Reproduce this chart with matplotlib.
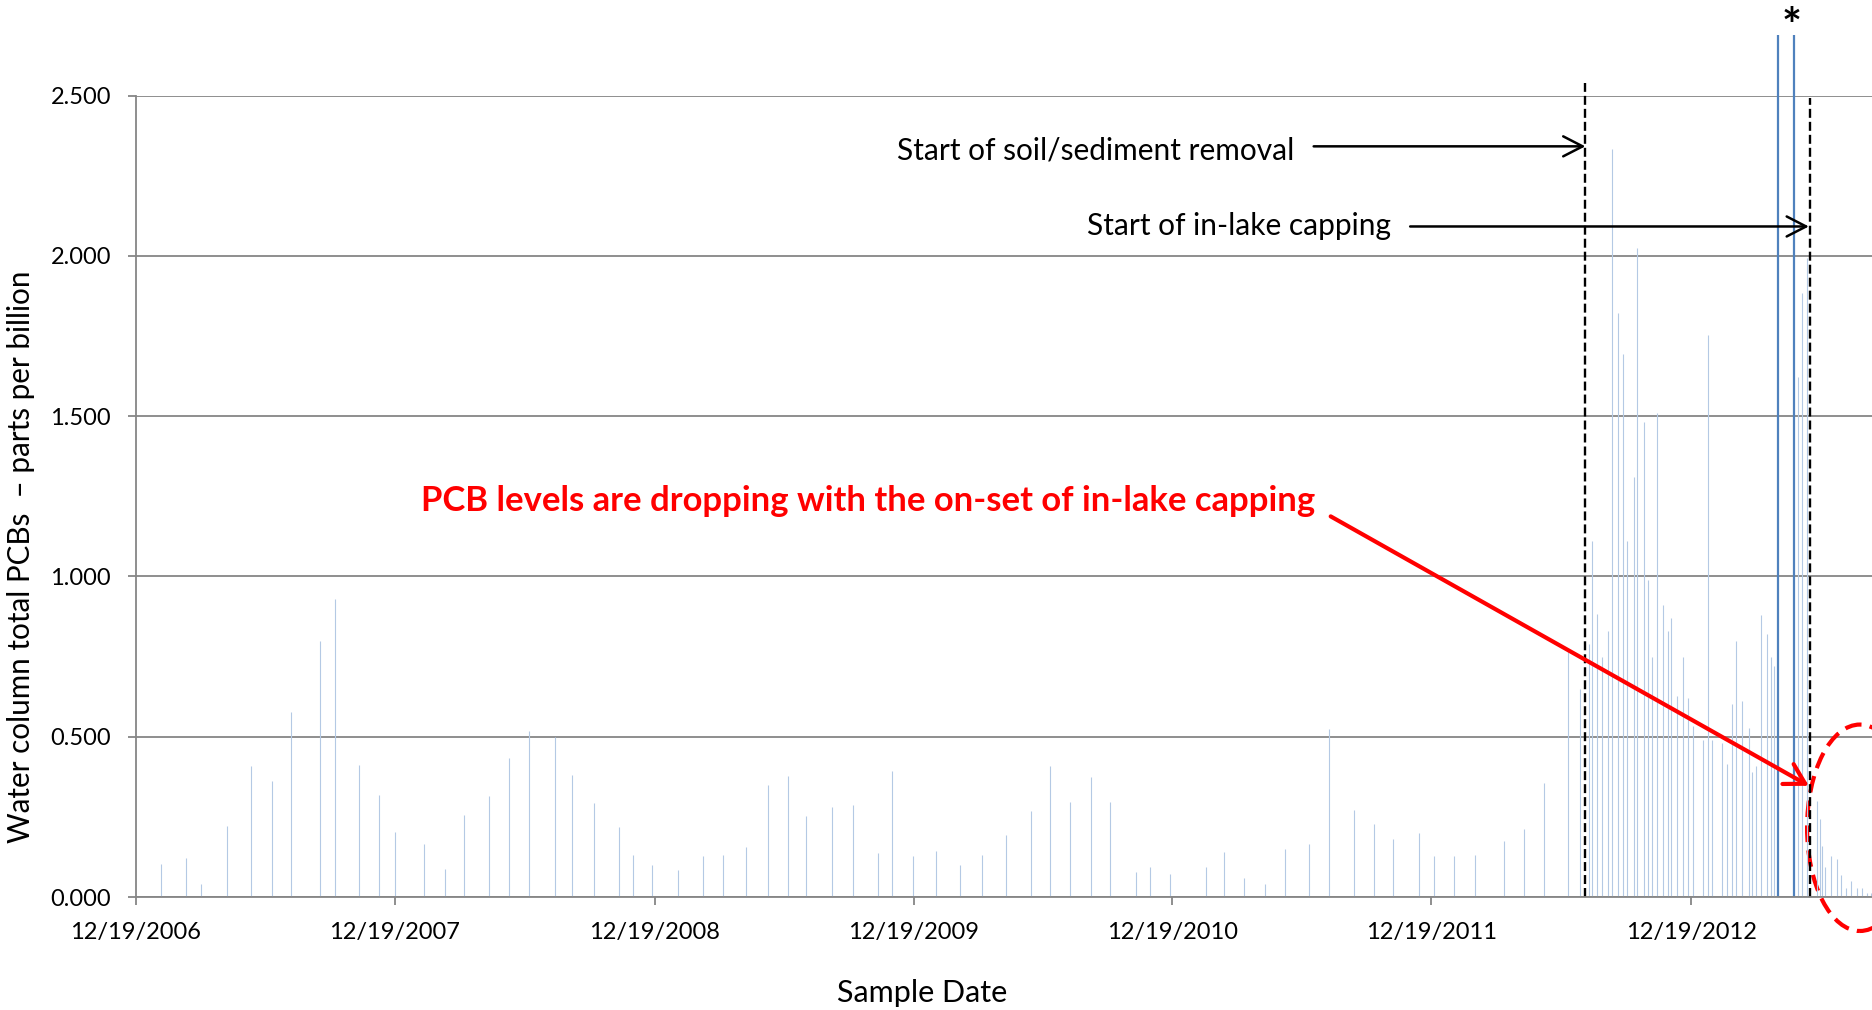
import numpy as np
import matplotlib
matplotlib.use("Agg")
import matplotlib.pyplot as plt
import matplotlib.dates as mdates
from matplotlib.patches import Ellipse

plt.rcParams["font.family"] = ["Lato", "DejaVu Sans"]

# sample dates, as days after 12/19/2006, and water column total PCBs (ppb)
sample_day = [
    35, 70, 91, 128, 162, 191, 219, 259, 281, 315, 342, 365, 406, 435, 463, 498,
    526, 554, 590, 615, 645, 681, 700, 728,
    764, 799, 827, 860, 891, 919, 945, 981, 1010, 1046, 1066, 1095, 1128, 1162,
    1192, 1227, 1261, 1288, 1317, 1346, 1373, 1409, 1430, 1458, 1508, 1533, 1562,
    1591, 1619, 1654, 1681,
    1717, 1745, 1772, 1808, 1829, 1858, 1887, 1928, 1956, 1984,
    2019, 2035, 2048, 2053, 2060, 2067, 2075, 2081, 2089, 2096,
    2102, 2111, 2116, 2125, 2131, 2137, 2144, 2153, 2159, 2163,
    2172, 2180, 2188, 2194, 2209, 2216, 2222, 2235, 2243, 2250,
    2256, 2264, 2273, 2278, 2284, 2291, 2299, 2305, 2309, 2342,
    2349, 2355, 2369, 2373, 2376, 2381, 2389, 2397, 2404, 2411,
    2418, 2426, 2433, 2440, 2446,
]
pcb_ppb = [
    0.103, 0.121, 0.042, 0.222, 0.410, 0.362, 0.576, 0.799, 0.930, 0.411, 0.318,
    0.203, 0.164, 0.087, 0.255, 0.316, 0.434, 0.517, 0.500, 0.381, 0.292, 0.217,
    0.130, 0.101,
    0.085, 0.129, 0.130, 0.157, 0.350, 0.377, 0.254, 0.280, 0.286, 0.138, 0.392,
    0.129, 0.142, 0.101, 0.130, 0.193, 0.269, 0.409, 0.297, 0.374, 0.297, 0.079,
    0.095, 0.073, 0.095, 0.141, 0.058, 0.039, 0.149, 0.165, 0.524,
    0.271, 0.229, 0.180, 0.200, 0.128, 0.127, 0.131, 0.175, 0.212, 0.355,
    0.770, 0.648, 0.790, 1.110, 0.882, 0.749, 0.829, 2.333, 1.823, 1.693,
    1.110, 1.311, 2.024, 1.482, 0.990, 0.749, 1.511, 0.910, 0.829, 0.870,
    0.628, 0.748, 0.620, 0.535, 0.489, 1.753, 0.489, 0.480, 0.416, 0.601,
    0.798, 0.611, 0.528, 0.390, 0.410, 0.879, 0.820, 0.748, 0.720, 1.622,
    1.883, 1.994, 0.299, 0.243, 0.160, 0.095, 0.127, 0.117, 0.068, 0.029,
    0.051, 0.029, 0.027, 0.014, 0.011,
]
# two samples above the axis maximum, marked with *
offscale_day = [2315, 2337]
removal_start_day = 2043
capping_start_day = 2359
tick_years = [2006, 2007, 2008, 2009, 2010, 2011, 2012]
y_ticks = [0.0, 0.5, 1.0, 1.5, 2.0, 2.5]

origin = np.datetime64("2006-12-19")


def day_num(day):
    return mdates.date2num(origin + np.timedelta64(int(round(day)), "D"))


x = [day_num(d) for d in sample_day]
grey = "#868686"

fig = plt.figure(figsize=(18.72, 10.10), dpi=100)
ax = fig.add_axes([136 / 1872, 113 / 1010, 1736 / 1872, 801.3 / 1010])

ax.vlines(x, 0, pcb_ppb, color="#B4C9E4", lw=0.8)

ax.set_xlim(day_num(0), day_num(2447))
ax.set_ylim(0, 2.5)
ax.set_yticks(y_ticks)
ax.yaxis.set_major_formatter(plt.FuncFormatter(lambda v, p: f"{v:.3f}"))
ax.set_xticks([mdates.date2num(np.datetime64(f"{y}-12-19")) for y in tick_years])
ax.xaxis.set_major_formatter(mdates.DateFormatter("%m/%d/%Y"))

ax.yaxis.grid(True, color=grey, lw=1.3)
ax.set_axisbelow(True)
for s in ["top", "right"]:
    ax.spines[s].set_visible(False)
for s in ["left", "bottom"]:
    ax.spines[s].set_color(grey)
    ax.spines[s].set_linewidth(1.3)
ax.tick_params(direction="out", length=6, width=1.3, color=grey, labelsize=17, pad=12)

ax.set_xlabel("Sample Date", fontsize=22, va="center")
ax.xaxis.set_label_coords((921.7 - 136) / 1736, -0.1198)
ax.set_ylabel("Water column total PCBs  \u2013 parts per billion", fontsize=21.3, va="center")
ax.yaxis.set_label_coords(-0.066, 0.424)

# event lines
ax.vlines(day_num(removal_start_day), 0, 2.541, color="black", lw=1.7,
          linestyles=(0, (3.8, 1.7)), clip_on=False)
ax.vlines(day_num(capping_start_day), 0, 2.494, color="black", lw=1.7,
          linestyles=(0, (3.8, 1.7)), clip_on=False)
ax.vlines([day_num(d) for d in offscale_day], 0, 2.69, color="#4F81BD", lw=1.6,
          clip_on=False)
ax.text(day_num(2334), 2.71, "*", fontsize=34, fontweight="bold", ha="center",
        va="center")

black_arrow = dict(arrowstyle="->,head_length=0.7,head_width=0.36", lw=1.8,
                   color="black", shrinkA=0, shrinkB=0, mutation_scale=20)
ax.text(day_num(1632), 2.329, "Start of soil/sediment removal", fontsize=21.5,
        ha="right", va="center")
ax.annotate("", xy=(day_num(removal_start_day), 2.342),
            xytext=(day_num(1660), 2.342), arrowprops=black_arrow)
ax.text(day_num(1769), 2.094, "Start of in-lake capping", fontsize=21.5,
        ha="right", va="center")
ax.annotate("", xy=(day_num(capping_start_day - 1.5), 2.092),
            xytext=(day_num(1796), 2.092), arrowprops=black_arrow)

ax.text(day_num(402), 1.236, "PCB levels are dropping with the on-set of in-lake capping",
        fontsize=24.9, fontweight="bold", color="red", ha="left", va="center")
ax.annotate("", xy=(day_num(2358), 0.347), xytext=(day_num(1684), 1.1875),
            arrowprops=dict(arrowstyle="->,head_length=0.71,head_width=0.41",
                            lw=3, color="red", shrinkA=0, shrinkB=0,
                            mutation_scale=20))
ax.add_patch(Ellipse((day_num(2430), 0.216), 149, 0.644, fill=False,
                     edgecolor="red", lw=3, linestyle=(0, (4, 2)), clip_on=False))

fig.savefig("out.png", dpi=100)
